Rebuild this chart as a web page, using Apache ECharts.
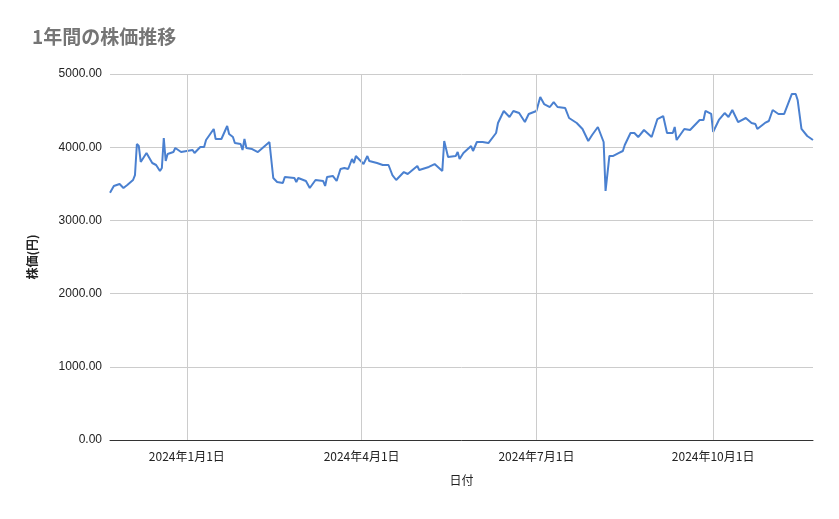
<!DOCTYPE html>
<html><head><meta charset="utf-8">
<script src="https://cdn.jsdelivr.net/npm/echarts@6/dist/echarts.min.js"></script>
<style>html,body{margin:0;padding:0;background:#fff}#c{width:839px;height:519px}</style>
</head><body><div id="c"></div>
<script>
// days since 2024-01-01
var dayOffsets = [-40,-38,-35,-33,-31,-28,-27,-26,-25,-24,-21,-18,-16,-14,-13,-12,-11,-10,-7,-6,-3,3,4,7,9,10,14,15,18,19,21,22,24,25,28,29,30,31,34,37,38,43,45,47,50,51,56,57,58,62,64,67,71,72,73,76,77,78,80,82,84,86,87,88,92,94,95,99,102,105,107,108,109,113,115,120,121,126,129,133,134,136,140,141,142,144,145,148,149,151,154,157,161,162,165,168,170,173,176,178,179,182,184,186,189,191,193,197,199,203,206,209,211,214,217,218,220,222,225,227,228,231,232,233,235,238,242,245,246,248,250,253,254,255,259,262,267,269,270,273,274,277,280,281,282,284,287,291,294,296,297,301,303,305,308,311,315,317,318,320,323,326];
var prices = [3378,3470,3497,3443,3484,3552,3620,4044,4016,3798,3921,3784,3757,3675,3716,4126,3811,3907,3934,3989,3934,3962,3921,4003,4003,4098,4249,4112,4112,4126,4290,4180,4139,4057,4044,3962,4112,3989,3975,3934,3934,4071,3579,3525,3511,3593,3579,3525,3579,3538,3443,3552,3538,3470,3593,3607,3620,3538,3702,3716,3702,3839,3784,3880,3770,3880,3811,3784,3757,3757,3620,3607,3552,3661,3634,3743,3689,3730,3770,3675,4085,3866,3880,3934,3839,3921,3907,4016,3948,4071,4071,4057,4194,4331,4495,4413,4495,4467,4344,4454,4440,4495,4686,4590,4549,4617,4549,4535,4399,4331,4249,4085,4167,4276,4071,3402,3880,3880,3921,3948,4030,4194,4167,4194,4139,4235,4139,4385,4372,4426,4194,4194,4276,4098,4249,4235,4372,4372,4495,4454,4208,4372,4467,4481,4413,4508,4344,4399,4331,4317,4249,4331,4358,4508,4454,4454,4727,4727,4645,4249,4153,4098,4003];
var tickDays = [0,91,182,274];
var tickLabels = ['2024年1月1日','2024年4月1日','2024年7月1日','2024年10月1日'];
var data = dayOffsets.map(function(d,i){return [d,prices[i]];});
var ch = echarts.init(document.getElementById('c'));
ch.setOption({
  animation:false,
  title:{text:'1年間の株価推移',left:27,top:22,textStyle:{color:'#757575',fontSize:19,fontWeight:'bold',fontFamily:'Noto Sans CJK JP'}},
  grid:{left:110,right:26,top:74,bottom:79},
  xAxis:{type:'value',min:-40,max:326,name:'日付',nameLocation:'middle',nameGap:34,
    nameTextStyle:{color:'#222',fontSize:12,fontFamily:'Noto Sans CJK JP'},
    axisLine:{show:true,lineStyle:{color:'#333'}},axisTick:{show:false},splitLine:{show:false},
    axisLabel:{customValues:tickDays,color:'#222',fontSize:12,margin:10,fontFamily:'Noto Sans CJK JP',
      formatter:function(v){var i=tickDays.indexOf(v);return i>=0?tickLabels[i]:'';}}},
  yAxis:{type:'value',min:0,max:5000,interval:1000,name:'株価(円)',nameLocation:'middle',nameGap:72,
    nameTextStyle:{color:'#222',fontSize:12,fontWeight:'bold',fontFamily:'Noto Sans CJK JP'},
    axisLine:{show:false},axisTick:{show:false},
    axisLabel:{color:'#222',fontSize:12,formatter:function(v){return v.toFixed(2);}},
    splitLine:{lineStyle:{color:'#cccccc'}}},
  series:[{type:'line',data:data,showSymbol:false,lineStyle:{color:'#4a80d0',width:2},itemStyle:{color:'#4a80d0'},
    markLine:{silent:true,symbol:'none',label:{show:false},lineStyle:{color:'#cccccc',type:'solid',width:1},
      data:tickDays.map(function(d){return {xAxis:d};})}}]
});
</script></body></html>
